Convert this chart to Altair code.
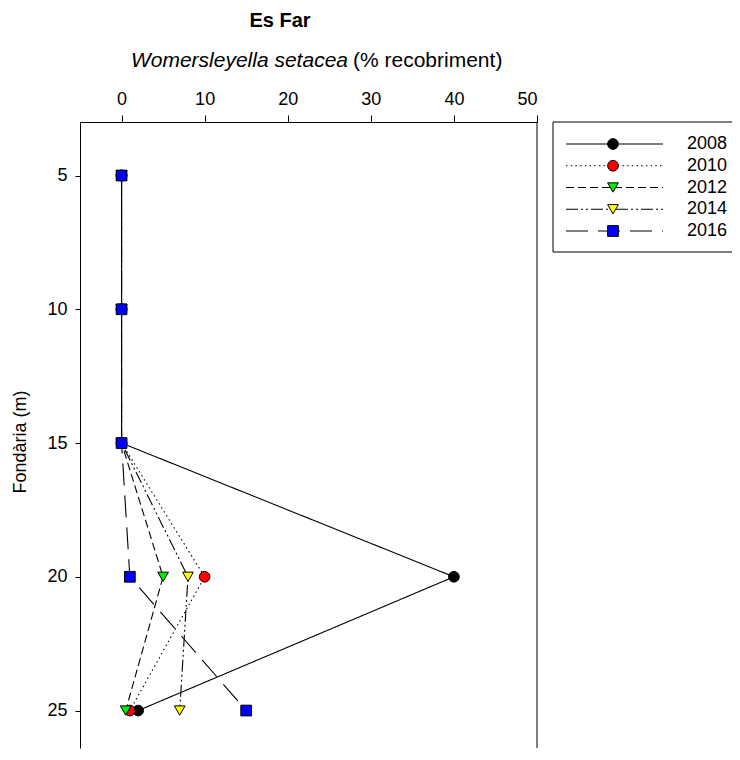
import altair as alt
import pandas as pd

depths = [5, 10, 15, 20, 25]
years = ["2008", "2010", "2012", "2014", "2016"]
cover_2008 = [0, 0, 0, 40, 2]
cover_2010 = [0, 0, 0, 10, 1]
cover_2012 = [0, 0, 0, 5, 0.5]
cover_2014 = [0, 0, 0, 8, 7]
cover_2016 = [0, 0, 0, 1, 15]
fills = ["#000000", "#ff0000", "#00ee00", "#ffff00", "#0000ff"]
shapes = ["circle", "circle", "triangle-down", "triangle-down", "square"]
dashes = [[1, 0], [1.5, 3.2], [8, 4], [12, 3, 2, 3, 2, 3], [22, 10]]
x_ticks = [0, 10, 20, 30, 40, 50]
y_ticks = [5, 10, 15, 20, 25]

FONT = "Liberation Sans"

series = [cover_2008, cover_2010, cover_2012, cover_2014, cover_2016]
rows = []
for yr, vals in zip(years, series):
    for d, v in zip(depths, vals):
        rows.append({"year": yr, "depth": d, "cover": v})
df = pd.DataFrame(rows)
leg_df = pd.DataFrame({"year": years})
one = pd.DataFrame({"k": [0]})

xscale = alt.Scale(domain=[-5, 50], nice=False, zero=False)
yscale = alt.Scale(domain=[3, 26.4], nice=False, zero=False, reverse=True)
dash_scale = alt.Scale(domain=years, range=dashes)
fill_scale = alt.Scale(domain=years, range=fills)
shape_scale = alt.Scale(domain=years, range=shapes)
leg_y = alt.Scale(type="point", domain=years, range=[22, 109], padding=0)

x_axis = alt.Axis(orient="top", values=x_ticks, tickSize=7, labelPadding=7, title=None,
                  domainColor="black", tickColor="black", labelColor="black",
                  labelFont=FONT, labelFontSize=18, grid=False)
y_axis = alt.Axis(orient="left", values=y_ticks, tickSize=5, labelPadding=8, title=None,
                  domainColor="black", tickColor="black", labelColor="black",
                  labelFont=FONT, labelFontSize=18, grid=False)

lines = alt.Chart(df).mark_line(color="black", strokeWidth=1.1).encode(
    x=alt.X("cover:Q", scale=xscale, axis=x_axis),
    y=alt.Y("depth:Q", scale=yscale, axis=y_axis),
    strokeDash=alt.StrokeDash("year:N", scale=dash_scale, legend=None),
    detail="year:N",
    order=alt.Order("depth:Q"),
)

points = alt.Chart(df).mark_point(filled=True, size=115, stroke="black", strokeWidth=1, opacity=1).encode(
    x=alt.X("cover:Q", scale=xscale, axis=x_axis),
    y=alt.Y("depth:Q", scale=yscale, axis=None),
    fill=alt.Fill("year:N", scale=fill_scale, legend=None),
    shape=alt.Shape("year:N", scale=shape_scale, legend=None),
)

right_frame = alt.Chart(one).mark_rule(color="black", strokeWidth=1).encode(
    x=alt.datum(50, scale=xscale)
)

title = alt.Chart(one).mark_text(text="Es Far", font=FONT, fontSize=20, fontWeight="bold",
                                 align="center", baseline="middle", color="black").encode(
    x=alt.value(200), y=alt.value(-101))
sub_it = alt.Chart(one).mark_text(text="Womersleyella setacea", font=FONT, fontSize=21,
                                  fontStyle="italic", align="right", baseline="middle",
                                  color="black").encode(x=alt.value(268), y=alt.value(-61))
sub_nm = alt.Chart(one).mark_text(text="(% recobriment)", font=FONT, fontSize=21,
                                  align="left", baseline="middle", color="black").encode(
    x=alt.value(273), y=alt.value(-61))
ytitle = alt.Chart(one).mark_text(text="Fondària (m)", font=FONT, fontSize=18, angle=270,
                                  align="center", baseline="middle", color="black").encode(
    x=alt.value(-59), y=alt.value(320))

leg_box = alt.Chart(one).mark_rect(fill="white", stroke="black", strokeWidth=1).encode(
    x=alt.value(473), x2=alt.value(670), y=alt.value(0), y2=alt.value(130))
leg_line = alt.Chart(leg_df).mark_rule(color="black", strokeWidth=1.1).encode(
    x=alt.value(486), x2=alt.value(583),
    y=alt.Y("year:N", scale=leg_y, axis=None),
    strokeDash=alt.StrokeDash("year:N", scale=dash_scale, legend=None),
)
leg_pts = alt.Chart(leg_df).mark_point(filled=True, size=115, stroke="black", strokeWidth=1, opacity=1).encode(
    x=alt.value(533),
    y=alt.Y("year:N", scale=leg_y, axis=None),
    fill=alt.Fill("year:N", scale=fill_scale, legend=None),
    shape=alt.Shape("year:N", scale=shape_scale, legend=None),
)
leg_txt = alt.Chart(leg_df).mark_text(font=FONT, fontSize=18, align="left", baseline="middle",
                                      color="black").encode(
    x=alt.value(607),
    y=alt.Y("year:N", scale=leg_y, axis=None),
    text="year:N",
)

chart = alt.layer(
    lines, points, right_frame, title, sub_it, sub_nm, ytitle,
    leg_box, leg_line, leg_pts, leg_txt,
).resolve_scale(y="independent").properties(
    width=457, height=626,
    autosize=alt.AutoSizeParams(type="none"),
    padding={"left": 72, "top": 114, "right": 195, "bottom": 4},
    background="white",
).configure_view(stroke=None)

chart.save("out.html", embed_options={"renderer": "svg", "actions": False})
